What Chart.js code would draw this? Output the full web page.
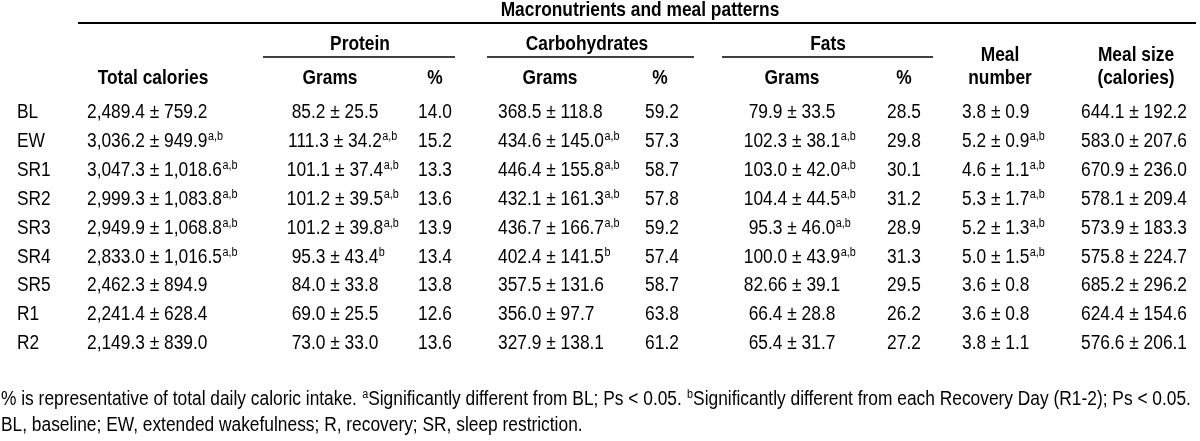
<!DOCTYPE html>
<html><head><meta charset="utf-8">
<script src="https://cdn.jsdelivr.net/npm/chart.js@4.4.1/dist/chart.umd.min.js"></script>
<style>html,body{margin:0;padding:0;background:#fff;}#wrap{width:1200px;height:441px;}</style>
</head><body><div id="wrap"><canvas id="c" width="1200" height="441"></canvas></div>
<script>
// ---------- data ----------
const rowLabels = ['BL','EW','SR1','SR2','SR3','SR4','SR5','R1','R2'];
const totalCalMean = [2489.4, 3036.2, 3047.3, 2999.3, 2949.9, 2833.0, 2462.3, 2241.4, 2149.3];
const totalCalSD   = [759.2, 949.9, 1018.6, 1083.8, 1068.8, 1016.5, 894.9, 628.4, 839.0];
const totalCalSig  = ['', 'a,b', 'a,b', 'a,b', 'a,b', 'a,b', '', '', ''];
const proteinGMean = [85.2, 111.3, 101.1, 101.2, 101.2, 95.3, 84.0, 69.0, 73.0];
const proteinGSD   = [25.5, 34.2, 37.4, 39.5, 39.8, 43.4, 33.8, 25.5, 33.0];
const proteinGSig  = ['', 'a,b', 'a,b', 'a,b', 'a,b', 'b', '', '', ''];
const proteinPct   = [14.0, 15.2, 13.3, 13.6, 13.9, 13.4, 13.8, 12.6, 13.6];
const carbGMean    = [368.5, 434.6, 446.4, 432.1, 436.7, 402.4, 357.5, 356.0, 327.9];
const carbGSD      = [118.8, 145.0, 155.8, 161.3, 166.7, 141.5, 131.6, 97.7, 138.1];
const carbGSig     = ['', 'a,b', 'a,b', 'a,b', 'a,b', 'b', '', '', ''];
const carbPct      = [59.2, 57.3, 58.7, 57.8, 59.2, 57.4, 58.7, 63.8, 61.2];
const fatGMean     = [79.9, 102.3, 103.0, 104.4, 95.3, 100.0, 82.66, 66.4, 65.4];
const fatGSD       = [33.5, 38.1, 42.0, 44.5, 46.0, 43.9, 39.1, 28.8, 31.7];
const fatGSig      = ['', 'a,b', 'a,b', 'a,b', 'a,b', 'a,b', '', '', ''];
const fatPct       = [28.5, 29.8, 30.1, 31.2, 28.9, 31.3, 29.5, 26.2, 27.2];
const mealNumMean  = [3.8, 5.2, 4.6, 5.3, 5.2, 5.0, 3.6, 3.6, 3.8];
const mealNumSD    = [0.9, 0.9, 1.1, 1.7, 1.3, 1.5, 0.8, 0.8, 1.1];
const mealNumSig   = ['', 'a,b', 'a,b', 'a,b', 'a,b', 'a,b', '', '', ''];
const mealSizeMean = [644.1, 583.0, 670.9, 578.1, 573.9, 575.8, 685.2, 624.4, 576.6];
const mealSizeSD   = [192.2, 207.6, 236.0, 209.4, 183.3, 224.7, 296.2, 154.6, 206.1];

const titleText = 'Macronutrients and meal patterns';
const groupHeaders = ['Protein', 'Carbohydrates', 'Fats'];
const columnHeaders = ['Total calories', 'Grams', '%', 'Grams', '%', 'Grams', '%'];
const mealHeaders = [['Meal', 'number'], ['Meal size', '(calories)']];
const footnote1 = [['% is representative of total daily caloric intake. ', ''], ['a', 'sup'], ['Significantly different from BL; Ps < 0.05. ', ''], ['b', 'sup'], ['Significantly different from each Recovery Day (R1-2); Ps < 0.05.', '']];
const footnote2 = [['BL, baseline; EW, extended wakefulness; R, recovery; SR, sleep restriction.', '']];

// ---------- layout (x in px units of x scale, y in row units of y scale) ----------
const ROW0 = 111, ROWH = 28.9;
const FONT = '"Liberation Sans", Arial, Helvetica, sans-serif';
const FS = 19.3, SUPFS = 12, SX = 0.9;
const fmt = v => v.toLocaleString('en-US', {minimumFractionDigits: 1, maximumFractionDigits: 2});
const pct = v => v.toFixed(1);
const pm = (m, s) => m.map((v, i) => fmt(v) + ' \u00b1 ' + fmt(s[i]));
const none = rowLabels.map(() => '');

const columns = [
  {text: rowLabels,               sig: none,        x: 17,   align: 'left'},
  {text: pm(totalCalMean, totalCalSD), sig: totalCalSig, x: 87,  align: 'left'},
  {text: pm(proteinGMean, proteinGSD), sig: proteinGSig, x: 335, align: 'center'},
  {text: proteinPct.map(pct),     sig: none,        x: 435,  align: 'center'},
  {text: pm(carbGMean, carbGSD),  sig: carbGSig,    x: 498,  align: 'left'},
  {text: carbPct.map(pct),        sig: none,        x: 662,  align: 'center'},
  {text: pm(fatGMean, fatGSD),    sig: fatGSig,     x: 792,  align: 'center'},
  {text: fatPct.map(pct),         sig: none,        x: 904,  align: 'center'},
  {text: pm(mealNumMean, mealNumSD), sig: mealNumSig, x: 962, align: 'left'},
  {text: pm(mealSizeMean, mealSizeSD), sig: none,  x: 1081, align: 'left'}
];
const rowY = px => (px - ROW0) / ROWH;
const L = {
  titleX: 640, titleY: rowY(9),
  topRule: {x1: 78, x2: 1196, y: rowY(23), w: 2},
  groupX: [360, 587, 828], groupY: rowY(43),
  groupRules: [[263, 455], [487, 694], [722, 933]], groupRuleY: rowY(57),
  colX: [153, 330, 435, 550, 660, 792, 904], colY: rowY(77),
  mealX: [1000, 1136], mealY: [rowY(54), rowY(77)],
  footX: 1, footY: [rowY(398), rowY(424)]
};

// ---------- drawing helpers ----------
function drawRuns(ctx, runs, x, y, align, bold) {
  const main = (bold ? 'bold ' : '') + FS + 'px ' + FONT;
  const sup = SUPFS + 'px ' + FONT;
  let wMain = 0;
  ctx.font = main;
  runs.forEach(([t, k]) => { if (k !== 'sup') wMain += ctx.measureText(t).width; });
  const start = align === 'center' ? x - wMain * SX / 2 : x;
  ctx.save();
  ctx.translate(start, y);
  ctx.scale(SX, 1);
  ctx.textAlign = 'left';
  ctx.textBaseline = 'alphabetic';
  const base = 7;
  let cx = 0;
  runs.forEach(([t, k]) => {
    if (!t) return;
    if (k === 'sup') { ctx.font = sup; ctx.fillText(t, cx + 0.5, base - 7); cx += ctx.measureText(t).width + 0.5; }
    else { ctx.font = main; ctx.fillText(t, cx, base); cx += ctx.measureText(t).width; }
  });
  ctx.restore();
}

const tablePlugin = {
  id: 'tableText',
  afterDatasetsDraw(chart) {
    const ctx = chart.ctx, xs = chart.scales.x, ys = chart.scales.y;
    const X = v => xs.getPixelForValue(v), Y = v => ys.getPixelForValue(v);
    ctx.save();
    ctx.fillStyle = '#000';
    ctx.strokeStyle = '#000';
    drawRuns(ctx, [[titleText, '']], X(L.titleX), Y(L.titleY), 'center', true);
    ctx.lineWidth = L.topRule.w;
    ctx.beginPath(); ctx.moveTo(X(L.topRule.x1), Y(L.topRule.y)); ctx.lineTo(X(L.topRule.x2), Y(L.topRule.y)); ctx.stroke();
    groupHeaders.forEach((g, i) => drawRuns(ctx, [[g, '']], X(L.groupX[i]), Y(L.groupY), 'center', true));
    ctx.lineWidth = 1.5;
    L.groupRules.forEach(([a, b]) => { ctx.beginPath(); ctx.moveTo(X(a), Y(L.groupRuleY)); ctx.lineTo(X(b), Y(L.groupRuleY)); ctx.stroke(); });
    columnHeaders.forEach((h, i) => drawRuns(ctx, [[h, '']], X(L.colX[i]), Y(L.colY), 'center', true));
    mealHeaders.forEach((lines, i) => lines.forEach((t, j) => drawRuns(ctx, [[t, '']], X(L.mealX[i]), Y(L.mealY[j]), 'center', true)));
    chart.data.datasets.forEach((ds, d) => {
      const col = columns[d];
      chart.getDatasetMeta(d).data.forEach((el, i) => {
        drawRuns(ctx, [[col.text[i], ''], [col.sig[i], 'sup']], el.x, el.y, col.align, false);
      });
    });
    drawRuns(ctx, footnote1, X(L.footX), Y(L.footY[0]), 'left', false);
    drawRuns(ctx, footnote2, X(L.footX), Y(L.footY[1]), 'left', false);
    ctx.restore();
  }
};

new Chart(document.getElementById('c'), {
  type: 'scatter',
  data: {
    datasets: columns.map((col, c) => ({
      label: 'col' + c,
      data: rowLabels.map((r, i) => ({x: col.x, y: i})),
      pointRadius: 0, pointHoverRadius: 0
    }))
  },
  options: {
    responsive: false, animation: false,
    layout: {padding: 0},
    plugins: {legend: {display: false}, tooltip: {enabled: false}},
    events: [],
    scales: {
      x: {type: 'linear', min: 0, max: 1200, display: false},
      y: {type: 'linear', min: rowY(0), max: rowY(441), reverse: true, display: false}
    }
  },
  plugins: [tablePlugin]
});
</script>
</body></html>
